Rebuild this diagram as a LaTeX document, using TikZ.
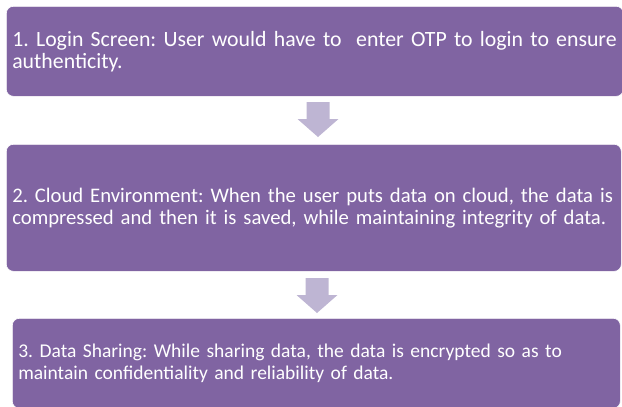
\documentclass[tikz,border=0pt]{standalone}
\usepackage{fontspec}
\setmainfont{Carlito}
\frenchspacing

\definecolor{boxpurple}{RGB}{128,100,162}
\definecolor{arrowlilac}{RGB}{190,181,211}

% block arrow pointing down, starting at the middle of its top edge
\newcommand{\downarrowat}[1]{%
  \fill[arrowlilac] (#1) ++(-11.5,0) -- ++(23,0) -- ++(0,17) -- ++(9,0)
     -- ++(-20.5,18) -- ++(-20.5,-18) -- ++(9,0) -- cycle;}

\begin{document}
\begin{tikzpicture}[x=1pt,y=-1pt]
\tikzset{stepbox/.style = {rectangle, rounded corners=7pt, fill=boxpurple, draw=white, line width=.6pt,
   anchor=north west, inner xsep=6pt, inner ysep=0pt, align=left, text=white}}

\useasboundingbox (0,0) rectangle (622,407);

% the three steps
\node[stepbox, minimum width=617pt, minimum height=90pt, text width=605pt,
      font=\fontsize{21.8}{22}\selectfont] (login) at (6,6)
  {\mbox{1. Login Screen: User would have to~ enter OTP to login to ensure}\\ authenticity.};

\node[stepbox, minimum width=615pt, minimum height=127pt, text width=603pt,
      font=\fontsize{20.7}{21.8}\selectfont] (cloud) at (6,144)
  {\mbox{2. Cloud Environment: When the user puts data on cloud, the data is}\\ compressed and then it is saved, while maintaining integrity of data.};

\node[stepbox, minimum width=608pt, minimum height=90pt, text width=596pt,
      font=\fontsize{19.5}{21.2}\selectfont] (sharing) at (12,318)
  {3. Data Sharing: While sharing data, the data is encrypted so as to\\ maintain confidentiality and reliability of data.};

% arrows between them
\coordinate (arrA) at (318,102);
\coordinate (arrB) at (317,278);
\downarrowat{arrA}
\downarrowat{arrB}

\end{tikzpicture}
\end{document}
